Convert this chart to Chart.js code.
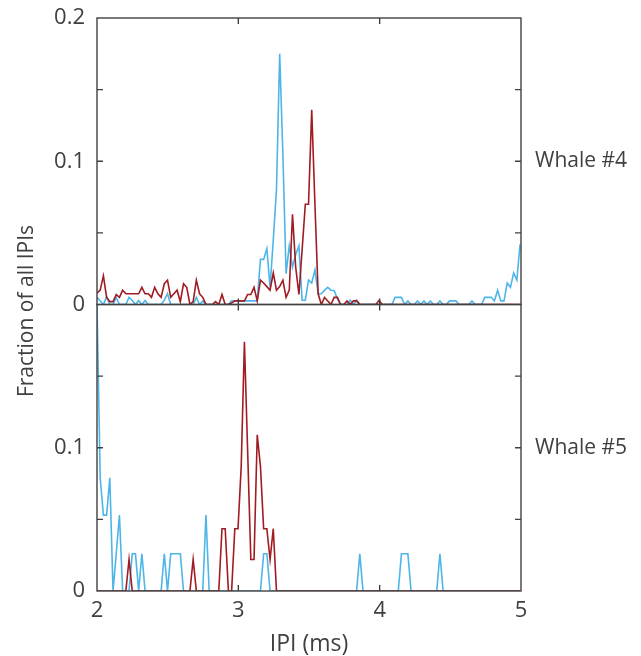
<!DOCTYPE html>
<html>
<head>
<meta charset="utf-8">
<script src="https://cdn.jsdelivr.net/npm/chart.js@4.4.1/dist/chart.umd.min.js"></script>
<style>
  html, body { margin: 0; padding: 0; background: #ffffff; }
  #wrap { width: 641px; height: 656px; position: relative; }
</style>
</head>
<body>
<div id="wrap"><canvas id="c" width="641" height="656"></canvas></div>
<script>
// ---------- DATA ----------
// IPI bins (ms): one sample step at 44.1 kHz, from 2 ms up to 5 ms
const binStepMs = 1 / 44.1;
const ipiBinsMs = Array.from({ length: 133 }, (_, k) => 2 + k * binStepMs);

const panelLabels = ['Whale #4', 'Whale #5'];
const xTickValues = [2, 3, 4, 5];
const yLabelledTicks = [0, 0.1, 0.2];

// Whale #4 (top panel)
const whale4Blue = [
  0.005,0.0025,0,0.0055,0,0,0.005,0,0,0,
  0.005,0.0028,0,0.0028,0,0.0028,0,0,0,0,
  0,0.003,0.0075,0,0,0,0,0,0,0,
  0,0.005,0,0.0025,0,0,0,0,0,0,
  0,0,0.0025,0.0025,0.0025,0.0025,0.0025,0.0025,0.0025,0.0025,
  0.0025,0.0315,0.0315,0.039,0.012,0.045,0.080,0.175,0.105,0.0215,
  0.041,0.026,0.035,0.041,0.003,0.003,0.017,0.015,0.024,0.0075,
  0.0075,0.010,0.012,0.010,0.0098,0.004,0,0,0,0.003,
  0,0.003,0,0,0,0,0,0,0,0,
  0,0,0,0.005,0.005,0.005,0,0.0025,0,0,
  0.0025,0,0.0025,0,0.0025,0,0,0.0025,0,0,
  0.0025,0.0025,0.0025,0,0,0,0,0.0025,0,0,
  0,0.005,0.005,0.005,0.0025,0.010,0.0025,0.0025,0.015,0.012,
  0.022,0.017,0.042
];
const whale4Red = [
  0.008,0.010,0.020,0.005,0.002,0.002,0.007,0.005,0.010,0.0075,
  0.0075,0.0075,0.0075,0.0075,0.012,0.0075,0.0075,0.005,0.012,0.0075,
  0.005,0.0145,0.017,0.005,0.0075,0.010,0.002,0.0145,0.012,0,
  0.002,0.017,0.0075,0.005,0,0,0,0.002,0,0.007,
  0,0,0.001,0.0025,0.0025,0.0025,0.0025,0.007,0.007,0.012,
  0.0025,0.017,0.015,0.0125,0.010,0.022,0.010,0.0125,0.017,0.005,
  0.010,0.063,0.026,0.007,0.038,0.070,0.070,0.136,0.070,0.0075,
  0,0.005,0.0025,0,0.005,0.005,0,0,0.0025,0,
  0.0025,0.0025,0,0,0,0,0,0,0.0028,0,
  0,0,0,0,0,0,0,0,0,0,
  0,0,0,0,0,0,0,0,0,0,
  0,0,0,0,0,0,0,0,0,0,
  0,0,0,0,0,0,0,0,0,0,
  0,0,0
];

// Whale #5 (bottom panel)
const whale5Blue = [
  0.2,0.079,0.053,0.053,0.079,0,0.026,0.053,0,0,
  0,0.026,0.026,0,0.026,0,0,0,0,0,
  0,0.026,0,0.026,0.026,0.026,0.026,0,0,0,
  0,0,0,0,0.053,0,0,0,0,0,
  0,0,0,0,0,0,0,0,0,0,
  0,0,0.026,0.026,0,0,0,0,0,0,
  0,0,0,0,0,0,0,0,0,0,
  0,0,0,0,0,0,0,0,0,0,
  0,0,0.026,0,0,0,0,0,0,0,
  0,0,0,0,0,0.026,0.026,0.026,0,0,
  0,0,0,0,0,0,0,0.026,0,0,
  0,0,0,0,0,0,0,0,0,0,
  0,0,0,0,0,0,0,0,0,0,
  0,0,0
];
const whale5Red = [
  0,0,0,0,0,0,0,0,0,0,
  0.022,0,0,0,0,0,0,0,0,0,
  0,0,0,0,0,0,0,0,0,0,
  0.022,0,0,0,0,0,0,0,0,0.0435,
  0.0435,0,0,0.0435,0.0435,0.087,0.174,0.098,0.022,0.022,
  0.109,0.087,0.0435,0.0435,0.022,0.0435,0,0,0,0,
  0,0,0,0,0,0,0,0,0,0,
  0,0,0,0,0,0,0,0,0,0,
  0,0,0,0,0,0,0,0,0,0,
  0,0,0,0,0,0,0,0,0,0,
  0,0,0,0,0,0,0,0,0,0,
  0,0,0,0,0,0,0,0,0,0,
  0,0,0,0,0,0,0,0,0,0,
  0,0,0
];

// ---------- STYLE ----------
const BLUE = '#4DB5E8';
const RED = '#A11B22';
const AXIS = '#404040';
const FONT = "'Open Sans', 'Noto Sans', sans-serif";
const TICK_LEN = 6;

const toPoints = (vals) => ipiBinsMs.map((x, i) => ({ x: x, y: vals[i] }));

function yTickLabel(v, allowTop) {
  if (Math.abs(v) < 1e-9) return '0';
  if (Math.abs(v - 0.1) < 1e-9) return '0.1';
  if (allowTop && Math.abs(v - 0.2) < 1e-9) return '0.2';
  return '';
}

const framePlugin = {
  id: 'frame',
  afterDatasetsDraw(chart) {
    const ctx = chart.ctx;
    const xs = chart.scales.x;
    const L = chart.chartArea.left, R = chart.chartArea.right;
    ctx.save();
    ctx.strokeStyle = AXIS;
    ctx.lineWidth = 1.4;
    ['yTop', 'yBot'].forEach((id) => {
      const s = chart.scales[id];
      const T = s.top, B = s.bottom;
      ctx.strokeRect(L, T, R - L, B - T);
      ctx.beginPath();
      s.ticks.forEach((t) => {
        const py = s.getPixelForValue(t.value);
        if (py <= T + 1 || py >= B - 1) return;
        ctx.moveTo(L, py); ctx.lineTo(L + TICK_LEN, py);
        ctx.moveTo(R, py); ctx.lineTo(R - TICK_LEN, py);
      });
      xs.ticks.forEach((t) => {
        const px = xs.getPixelForValue(t.value);
        if (px <= L + 1 || px >= R - 1) return;
        ctx.moveTo(px, B); ctx.lineTo(px, B - TICK_LEN);
        ctx.moveTo(px, T); ctx.lineTo(px, T + TICK_LEN);
      });
      ctx.stroke();
    });
    // panel labels
    ctx.fillStyle = AXIS;
    ctx.font = "21px " + FONT;
    ctx.textAlign = 'left';
    ctx.textBaseline = 'middle';
    ctx.fillText(panelLabels[0], 535, chart.scales.yTop.getPixelForValue(0.1));
    ctx.fillText(panelLabels[1], 535, chart.scales.yBot.getPixelForValue(0.1));
    // shared y title
    ctx.translate(27, 311);
    ctx.rotate(-Math.PI / 2);
    ctx.textAlign = 'center';
    ctx.font = "21px " + FONT;
    ctx.fillText('Fraction of all IPIs', 0, 0);
    ctx.restore();
  }
};

const yCommon = (allowTop) => ({
  type: 'linear',
  position: 'left',
  stack: 'panels',
  stackWeight: 1,
  min: 0,
  max: 0.2,
  border: { display: false },
  grid: { display: false, drawTicks: false },
  afterBuildTicks: (scale) => {
    scale.ticks = [0, 0.05, 0.1, 0.15, 0.2].map((v) => ({ value: v }));
  },
  ticks: {
    color: AXIS,
    font: { family: FONT, size: 22 },
    padding: 12,
    autoSkip: false,
    callback: (v) => yTickLabel(v, allowTop)
  },
  afterFit: (scale) => {
    scale.width = 97;
    scale.paddingTop = 0;
    scale.paddingBottom = 0;
  }
});

new Chart(document.getElementById('c'), {
  type: 'line',
  data: {
    datasets: [
      { label: 'Whale #4 red', data: toPoints(whale4Red), yAxisID: 'yTop', borderColor: RED, order: 0 },
      { label: 'Whale #4 blue', data: toPoints(whale4Blue), yAxisID: 'yTop', borderColor: BLUE, order: 1 },
      { label: 'Whale #5 red', data: toPoints(whale5Red), yAxisID: 'yBot', borderColor: RED, order: 0 },
      { label: 'Whale #5 blue', data: toPoints(whale5Blue), yAxisID: 'yBot', borderColor: BLUE, order: 1 }
    ]
  },
  options: {
    responsive: false,
    animation: false,
    devicePixelRatio: 1,
    layout: { padding: { left: 0, top: 18, right: 120, bottom: 0 } },
    elements: {
      line: { borderWidth: 1.6, tension: 0, fill: false },
      point: { radius: 0, hoverRadius: 0 }
    },
    plugins: { legend: { display: false }, tooltip: { enabled: false } },
    scales: {
      x: {
        type: 'linear',
        min: 2,
        max: 5,
        border: { display: false },
        grid: { display: false, drawTicks: false },
        afterBuildTicks: (scale) => { scale.ticks = xTickValues.map((v) => ({ value: v })); },
        ticks: {
          color: AXIS,
          font: { family: FONT, size: 22 },
          padding: 7,
          maxRotation: 0,
          callback: (v) => String(v)
        },
        title: {
          display: true,
          text: 'IPI (ms)',
          color: AXIS,
          font: { family: FONT, size: 23, lineHeight: 1 },
          padding: { top: 0, bottom: 0 }
        },
        afterFit: (scale) => {
          scale.height = 65;
          scale.paddingLeft = 0;
          scale.paddingRight = 0;
        }
      },
      yBot: yCommon(false),
      yTop: yCommon(true)
    }
  },
  plugins: [framePlugin]
});
</script>
</body>
</html>
